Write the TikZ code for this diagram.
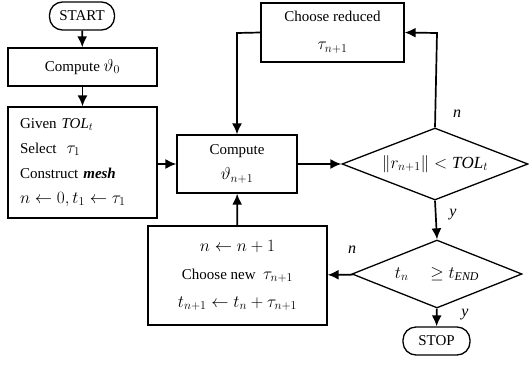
\documentclass[tikz,border=0pt]{standalone}
\usepackage{fontspec}
\setmainfont{Liberation Serif}
\usetikzlibrary{shapes.geometric,arrows.meta}
\newcommand\mth[1]{{\fontsize{17}{25}\selectfont$#1$}}
\begin{document}
\begin{tikzpicture}[x=1pt,y=-1pt,
  font=\fontsize{15}{18}\selectfont,
  box/.style={draw,line width=1.3pt,inner sep=0pt},
  term/.style={draw,line width=1.3pt,inner sep=0pt,rounded corners=13pt},
  dec/.style={draw,diamond,line width=1.3pt,inner sep=0pt},
  conn/.style={line width=1.7pt,-{Latex[length=11pt,width=10pt]}},
  lbl/.style={font=\fontsize{16}{18}\selectfont\itshape,inner sep=0pt}]
\useasboundingbox (0,0) rectangle (529,364);

\node[term,minimum width=65,minimum height=28] (start) at (82,16) {START};
\node[box,minimum width=149,minimum height=38] (c0) at (82.5,67) {Compute \mth{\vartheta_0}};
\node[box,minimum width=149,minimum height=111,align=left,text width=125,
      font=\fontsize{15}{25}\selectfont] (given) at (82.5,162.5)
  {Given \textit{TOL}$_t$\\
   Select\ \ \mth{\tau_1}\\
   Construct \textbf{\textit{mesh}}\\
   {\fontsize{18}{25}\selectfont $n \leftarrow 0, t_1 \leftarrow \tau_1$}};
\node[box,minimum width=120,minimum height=58,align=center,
      font=\fontsize{15}{25}\selectfont] (cn) at (237,164)
  {Compute\\ \mth{\vartheta_{n+1}}};
\node[box,minimum width=143,minimum height=59,align=center,
      font=\fontsize{15}{28}\selectfont] (red) at (332.5,32.5)
  {Choose reduced\\ \mth{\tau_{n+1}}};
\node[box,minimum width=179,minimum height=99,align=center,
      font=\fontsize{15}{28}\selectfont] (new) at (237.5,275.5)
  {{\fontsize{18}{28}\selectfont $n \leftarrow n+1$}\\
   Choose new\ \ \mth{\tau_{n+1}}\\
   {\fontsize{18}{28}\selectfont $t_{n+1} \leftarrow t_n + \tau_{n+1}$}};
\node[dec,minimum width=186,minimum height=72,aspect=2.6] (d1) at (435,164)
  {\mth{\big\| r_{n+1} \big\| < \mathit{TOL}_t}};
\node[dec,minimum width=170,minimum height=68,aspect=2.5] (d2) at (437,274)
  {\mth{t_n \quad \geq t_{\mathit{END}}}};
\node[term,minimum width=67,minimum height=28] (stop) at (436.5,341) {STOP};

\coordinate (r1) at (437,33);
\coordinate (r2) at (237,33);

\draw[conn] (start) -- (c0);
\draw[conn] (c0) -- (given);
\draw[conn] (given.east |- cn.west) -- (cn.west);
\draw[conn] (cn) -- (d1);
\draw[conn] (d1.north) -- (r1) -- (red.east);
\draw[conn] (red.west) -- (r2) -- (cn.north);
\draw[conn] (d1.south) -- (d2.north);
\draw[conn] (d2) -- (new);
\draw[conn] (new) -- (cn);
\draw[conn] (d2) -- (stop);

\node[lbl] (ln1) at (457,114) {n};
\node[lbl] (ly1) at (453,215) {y};
\node[lbl] (ln2) at (352,250) {n};
\node[lbl] (ly2) at (465,315) {y};
\end{tikzpicture}
\end{document}
